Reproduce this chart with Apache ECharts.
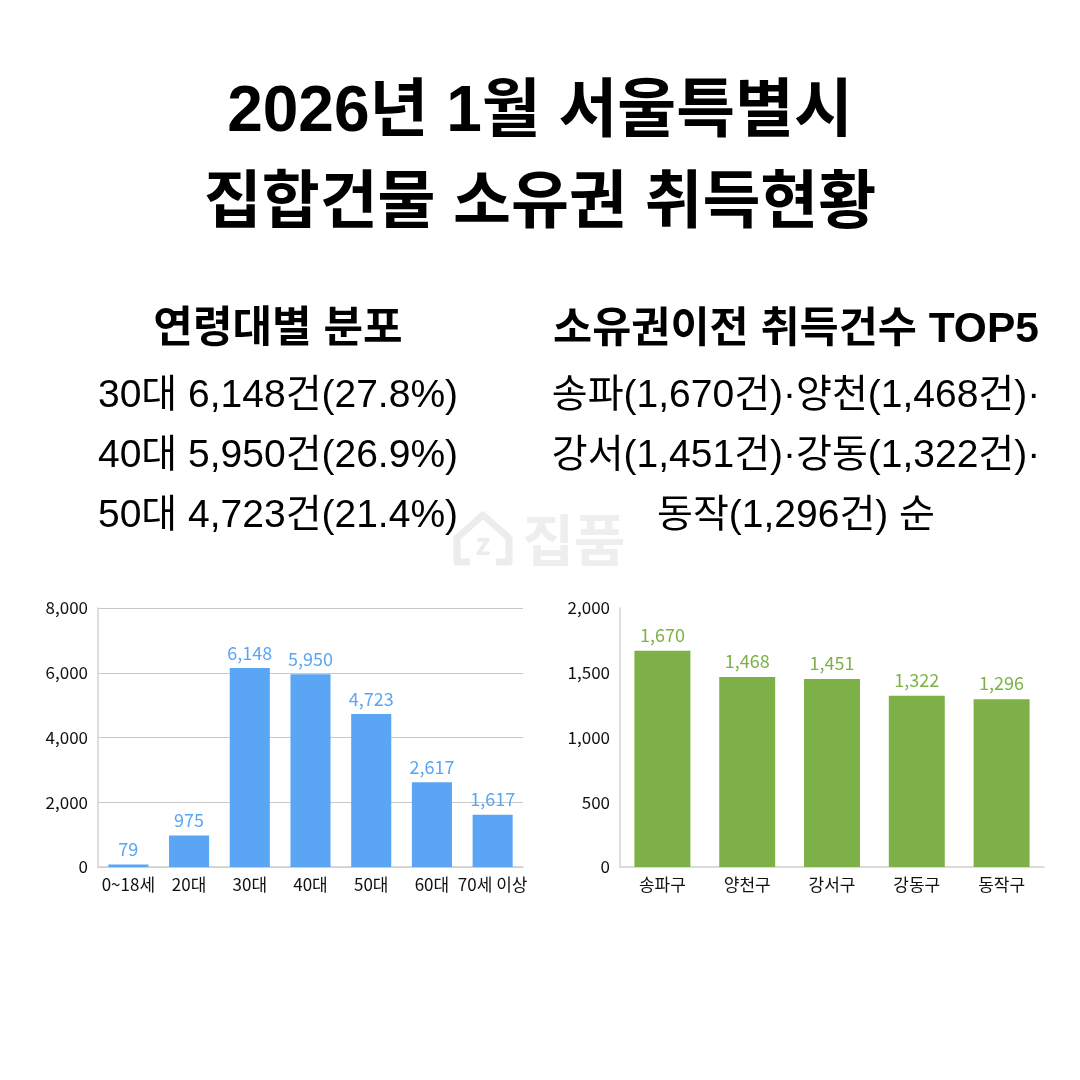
<!DOCTYPE html>
<html>
<head>
<meta charset="utf-8">
<script src="https://cdn.jsdelivr.net/npm/echarts@6/dist/echarts.min.js"></script>
<style>
  html, body { margin: 0; padding: 0; background: #fff; }
  #main { width: 1080px; height: 1080px; }
</style>
</head>
<body>
<div id="main"></div>
<script>
// 연령대별 분포
const ageCats = ['0~18세', '20대', '30대', '40대', '50대', '60대', '70세 이상'];
const ageVals = [79, 975, 6148, 5950, 4723, 2617, 1617];
const ageTicks = [0, 2000, 4000, 6000, 8000];

// 소유권이전 취득건수 TOP5
const guCats = ['송파구', '양천구', '강서구', '강동구', '동작구'];
const guVals = [1670, 1468, 1451, 1322, 1296];
const guTicks = [0, 500, 1000, 1500, 2000];

const titleLines = ['2026년 1월 서울특별시', '집합건물 소유권 취득현황'];
const leftHead = '연령대별 분포';
const leftLines = ['30대 6,148건(27.8%)', '40대 5,950건(26.9%)', '50대 4,723건(21.4%)'];
const rightHead = '소유권이전 취득건수 TOP5';
const rightLines = ['송파(1,670건)·양천(1,468건)·', '강서(1,451건)·강동(1,322건)·', '동작(1,296건) 순'];

const FONT = '"Noto Sans CJK KR", "Noto Sans", sans-serif';
const HEAD_FONT = '"Liberation Sans", "Noto Sans CJK KR", sans-serif';
const fmt = v => v.toLocaleString('en-US');

let chart = echarts.init(document.getElementById('main'));

function textEl(str, x, y, size, weight, color, family) {
    return {
        type: 'text', x: x, y: y,
        style: {
            text: str, fill: color || '#000', font: weight + ' ' + size + 'px ' + (family || HEAD_FONT),
            textAlign: 'center', textVerticalAlign: 'middle'
        }
    };
}

let graphics = [];
titleLines.forEach((t, i) => graphics.push(textEl(t, 540, 113 + i * 92, i === 0 ? 64 : 63, 'bold')));
graphics.push(textEl(leftHead, 278, 330, 43, '600'));
graphics.push(textEl(rightHead, 796, 330, 42.5, '600'));
leftLines.forEach((t, i) => graphics.push(textEl(t, 278, 396 + i * 60, 39, 'normal')));
rightLines.forEach((t, i) => graphics.push(textEl(t, 796, 396 + i * 60, 39, 'normal')));

// watermark (집품 logo)
graphics.push({
    type: 'polyline',
    shape: { points: [[470, 562], [457, 562], [457, 538], [483, 515], [509, 538], [509, 562], [496, 562]] },
    style: { stroke: '#ececec', lineWidth: 7, fill: null, lineJoin: 'round' }
});
graphics.push(textEl('z', 483, 544, 30, 'bold', '#ececec', FONT));
graphics.push(textEl('집품', 574, 540, 56, 'bold', '#eeeeee', FONT));

function valueAxis(idx, ticks, splitShow) {
    return {
        type: 'value', gridIndex: idx,
        min: ticks[0], max: ticks[ticks.length - 1], interval: ticks[1] - ticks[0],
        axisLine: { show: true, lineStyle: { color: '#d4d4d4', width: 1.5 } },
        axisTick: { show: false },
        splitLine: { show: splitShow, lineStyle: { color: '#c8c8c8' } },
        axisLabel: { color: '#111', fontSize: 17, fontFamily: FONT, margin: 10, formatter: v => fmt(v) }
    };
}

function catAxis(idx, cats) {
    return {
        type: 'category', gridIndex: idx, data: cats,
        axisLine: { lineStyle: { color: '#cfcfcf', width: 1.5 } },
        axisTick: { show: false },
        axisLabel: { color: '#111', fontSize: 17, fontFamily: FONT, interval: 0, margin: 9 }
    };
}

let option = {
    backgroundColor: '#fff',
    animation: false,
    graphic: graphics,
    grid: [
        { left: 98, right: 557, top: 608, bottom: 213 },
        { left: 620, right: 36, top: 608, bottom: 213 }
    ],
    xAxis: [catAxis(0, ageCats), catAxis(1, guCats)],
    yAxis: [valueAxis(0, ageTicks, true), valueAxis(1, guTicks, false)],
    series: [
        {
            type: 'bar', xAxisIndex: 0, yAxisIndex: 0, data: ageVals,
            barWidth: '66%',
            itemStyle: { color: '#5aa6f4' },
            label: { show: true, position: 'top', distance: 6, color: '#5aa6f4', fontSize: 18, fontFamily: FONT, formatter: p => fmt(p.value) }
        },
        {
            type: 'bar', xAxisIndex: 1, yAxisIndex: 1, data: guVals,
            barWidth: '66%',
            itemStyle: { color: '#7db147' },
            label: { show: true, position: 'top', distance: 7, color: '#7db147', fontSize: 18, fontFamily: FONT, formatter: p => fmt(p.value) }
        }
    ]
};

chart.setOption(option);
</script>
</body>
</html>
